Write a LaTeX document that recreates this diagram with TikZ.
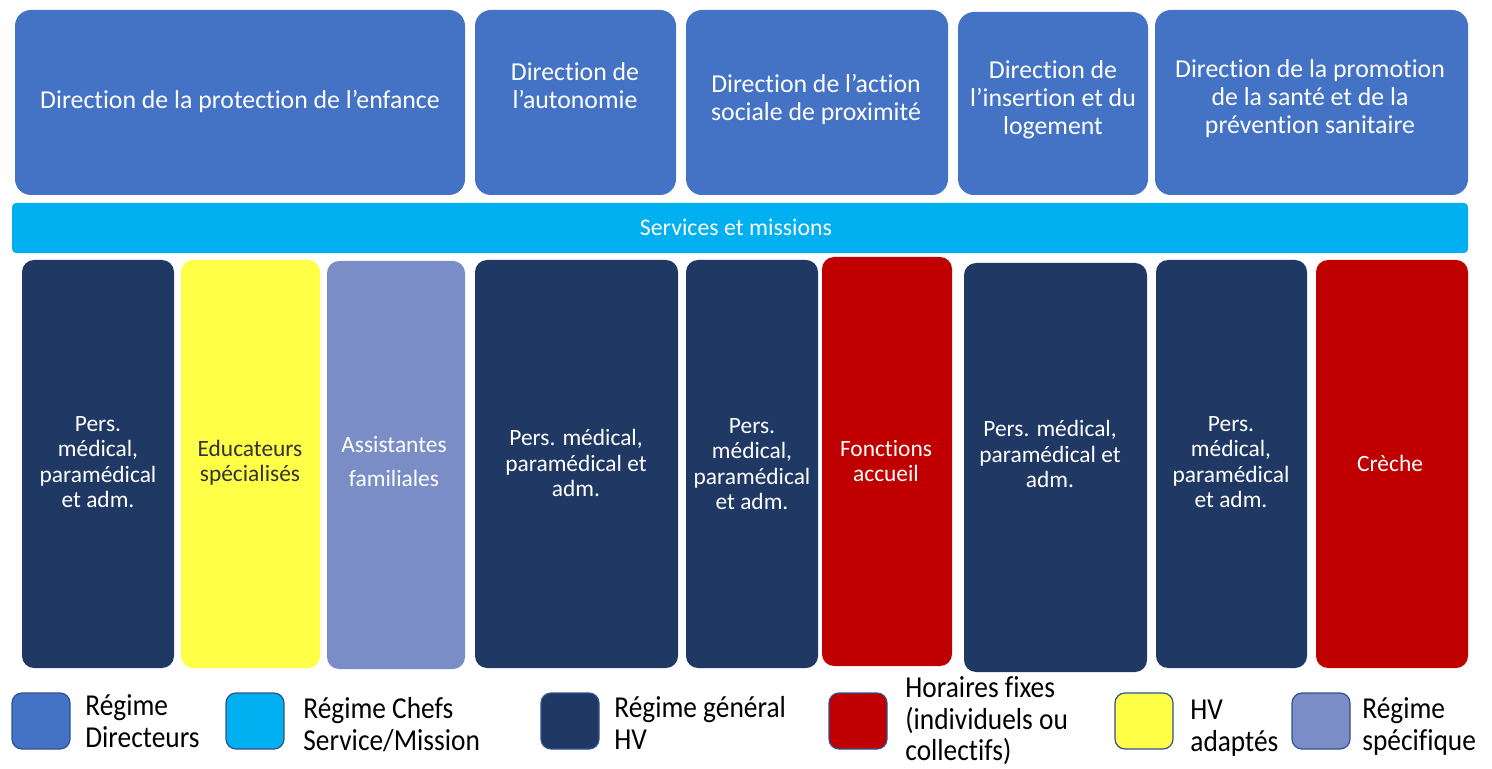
\documentclass[tikz,border=0pt]{standalone}
\usepackage{fontspec}
\setmainfont[Ligatures=NoCommon]{Carlito}
\usepackage{graphicx}
\definecolor{dirblue}{HTML}{4472C4}
\definecolor{svcblue}{HTML}{00B0F0}
\definecolor{navy}{HTML}{203864}
\definecolor{dred}{HTML}{C00000}
\definecolor{yel}{HTML}{FFFF47}
\definecolor{lav}{HTML}{7A8DC7}
\definecolor{edge}{HTML}{2F528F}
\newcommand{\legtext}[1]{\scalebox{0.9}[1]{\begin{tabular}{@{}l@{}}#1\end{tabular}}}
\begin{document}
\begin{tikzpicture}[x=0.5pt,y=-0.5pt,
  box/.style={anchor=north west,inner sep=0pt,outer sep=0pt,rounded corners=6pt},
  top/.style={box,fill=dirblue,rounded corners=8pt},
  txt/.style={align=center,inner sep=0pt,text=white,font=\fontsize{12.9}{14}\selectfont},
  btxt/.style={align=center,inner sep=0pt,text=white,font=\fontsize{11.7}{12.6}\selectfont},
  leg/.style={box,rounded corners=5pt,draw=edge,line width=0.6pt,minimum width=29pt,minimum height=28pt},
  ltxt/.style={anchor=west,align=left,inner sep=0pt,text=black,font=\fontsize{15.2}{15.8}\selectfont}]
\useasboundingbox (0,0) rectangle (1492,769);
\fill[white] (0,0) rectangle (1492,769);
% top row
\node[top,minimum width=225pt,minimum height=92.5pt] (d1) at (15,10) {};
\node[top,minimum width=100.5pt,minimum height=92.5pt] (d2) at (475,10) {};
\node[top,minimum width=131pt,minimum height=92.5pt] (d3) at (686,10) {};
\node[top,minimum width=95pt,minimum height=91.5pt] (d4) at (958,12) {};
\node[top,minimum width=156.5pt,minimum height=92.5pt] (d5) at (1155,10) {};
\node[txt] (t1) at (240,101) {Direction de la protection de l’enfance};
\node[txt] (t2) at (575,86) {Direction de\\l’autonomie};
\node[txt] (t3) at (816,99) {Direction de l’action\\sociale de proximité};
\node[txt] (t4) at (1053,100) {Direction de\\l’insertion et du\\logement};
\node[txt] (t5) at (1310,99) {Direction de la promotion\\de la santé et de la\\prévention sanitaire};
% services bar
\node[box,fill=svcblue,rounded corners=2pt,minimum width=728pt,minimum height=25pt] (svc) at (12,203) {};
\node[txt,font=\fontsize{11.9}{14}\selectfont] (svct) at (736,227) {Services et missions};
% bottom row
\node[box,fill=navy,minimum width=76pt,minimum height=204pt] (a) at (22,260) {};
\node[box,fill=yel,minimum width=69.5pt,minimum height=204pt] (b) at (181,260) {};
\node[box,fill=lav,minimum width=69pt,minimum height=204pt] (c) at (327,261) {};
\node[box,fill=navy,minimum width=101.5pt,minimum height=204pt] (d) at (475,260) {};
\node[box,fill=navy,minimum width=66pt,minimum height=204pt] (e) at (686,260) {};
\node[box,fill=dred,minimum width=65pt,minimum height=204.5pt] (f) at (822,257) {};
\node[box,fill=navy,minimum width=91.5pt,minimum height=204.5pt] (g) at (964,263) {};
\node[box,fill=navy,minimum width=75.5pt,minimum height=204pt] (h) at (1156,260) {};
\node[box,fill=dred,minimum width=76pt,minimum height=204pt] (i) at (1316,260) {};
\node[btxt] (at) at (98,462) {Pers.\\médical,\\paramédical\\et adm.};
\node[btxt,text=black!80] (bt) at (250,463) {Educateurs\\spécialisés};
\node[btxt,font=\fontsize{11.7}{17}\selectfont] (ct) at (394,462) {Assistantes\\familiales};
\node[btxt] (dt) at (576,463) {Pers. médical,\\paramédical et\\adm.};
\node[btxt] (et) at (752,464) {Pers.\\médical,\\paramédical\\et adm.};
\node[btxt] (ft) at (886,461) {Fonctions\\accueil};
\node[btxt] (gt) at (1050,454) {Pers. médical,\\paramédical et\\adm.};
\node[btxt] (ht) at (1231,462) {Pers.\\médical,\\paramédical\\et adm.};
\node[btxt] (it) at (1390,463) {Crèche};
% legend
\node[leg,fill=dirblue] (l1) at (12,693) {};
\node[ltxt] (l1t) at (85,725) {\legtext{Régime\\Directeurs}};
\node[leg,fill=svcblue] (l2) at (226,693) {};
\node[ltxt] (l2t) at (303,728) {\legtext{Régime Chefs\\Service/Mission}};
\node[leg,fill=navy] (l3) at (541,693) {};
\node[ltxt] (l3t) at (614,727) {\legtext{Régime général\\HV}};
\node[leg,fill=dred] (l4) at (829,693) {};
\node[ltxt,font=\fontsize{15.2}{15.2}\selectfont] (l4t) at (905,723) {\legtext{Horaires fixes\\(individuels ou\\collectifs)}};
\node[leg,fill=yel] (l5) at (1115,693) {};
\node[ltxt] (l5t) at (1190,729) {\legtext{HV\\adaptés}};
\node[leg,fill=lav] (l6) at (1292,693) {};
\node[ltxt] (l6t) at (1362,728) {\legtext{Régime\\spécifique}};
\end{tikzpicture}
\end{document}
